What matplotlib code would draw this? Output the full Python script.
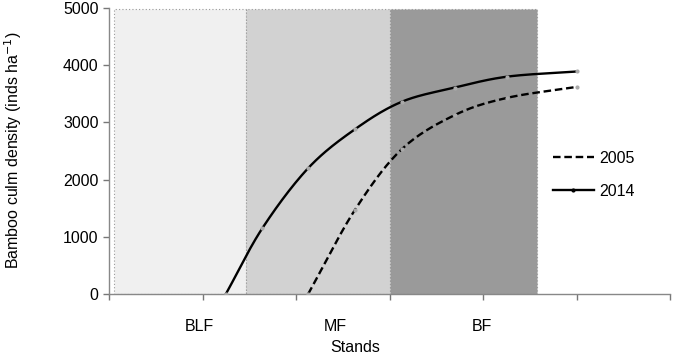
import numpy as np
import matplotlib.pyplot as plt

plt.rcParams['font.family'] = ['Liberation Sans', 'DejaVu Sans']

# sampling positions along the stand gradient (axis units)
x_pos = [1.25, 1.64, 2.13, 2.63, 3.13, 3.70, 4.26, 5.0]
density_2014 = [0, 1150, 2200, 2880, 3360, 3610, 3800, 3890]
x_pos_2005 = [2.13, 2.63, 3.13, 3.70, 4.26, 5.0]
density_2005 = [0, 1470, 2530, 3130, 3430, 3620]

stands = ['BLF', 'MF', 'BF']
stand_edges = [0.05, 1.47, 3.0, 4.58]
stand_colors = ['#f0f0f0', '#d2d2d2', '#9a9a9a']
stand_label_x = [0.97, 2.42, 3.99]

# px per axis unit, used so smoothing behaves as in screen space
SX, SY = 93.5, 0.0572


def smooth(x, y, n=30):
    # Catmull-Rom style smoothing, like the spreadsheet "smoothed line"
    x = np.asarray(x, float) * SX
    y = np.asarray(y, float) * SY
    px = np.concatenate([[2 * x[0] - x[1]], x, [2 * x[-1] - x[-2]]])
    py = np.concatenate([[2 * y[0] - y[1]], y, [2 * y[-1] - y[-2]]])
    xs, ys = [], []
    t = np.linspace(0, 1, n)
    for i in range(1, len(px) - 2):
        p0, p1, p2, p3 = [np.array([px[j], py[j]]) for j in range(i - 1, i + 3)]
        m1 = (p2 - p0) / 2
        m2 = (p3 - p1) / 2
        h00 = 2 * t**3 - 3 * t**2 + 1
        h10 = t**3 - 2 * t**2 + t
        h01 = -2 * t**3 + 3 * t**2
        h11 = t**3 - t**2
        pts = np.outer(h00, p1) + np.outer(h10, m1) + np.outer(h01, p2) + np.outer(h11, m2)
        xs.extend(pts[:, 0])
        ys.extend(pts[:, 1])
    return np.array(xs) / SX, np.array(ys) / SY


fig = plt.figure(figsize=(6.75, 3.56), dpi=100)
ax = fig.add_axes([0.1615, 0.1742, 0.8311, 0.8033])

for i in range(3):
    ax.axvspan(stand_edges[i], stand_edges[i + 1], ymin=0, ymax=0.995,
               facecolor=stand_colors[i], edgecolor='#999999',
               linestyle=(0, (1, 2)), linewidth=0.8, zorder=0)

sx, sy = smooth(x_pos_2005, density_2005)
ax.plot(sx, sy, color='black', linestyle=(0, (3.2, 1.6)), linewidth=1.7, zorder=3)
ax.plot(x_pos_2005, density_2005, 'o', color='#aaaaaa', markersize=2, zorder=4)
ax.plot([], [], color='black', linestyle=(0, (3.2, 1.6)), linewidth=1.7, label='2005')

sx, sy = smooth(x_pos, density_2014)
ax.plot(sx, sy, color='black', linewidth=1.7, zorder=3)
ax.plot(x_pos, density_2014, 'o', color='#aaaaaa', markersize=2, zorder=4)
ax.plot([], [], color='black', linewidth=1.7, marker='o', markersize=2,
        label='2014')

ax.set_xlim(0, 6)
ax.set_ylim(0, 5000)
ax.set_xticks(np.arange(0, 7))
ax.set_xticklabels([])
ax.set_yticks(np.arange(0, 5001, 1000))
ax.tick_params(axis='both', colors='#777777', labelcolor='black',
               labelsize=11.5, length=4, width=1)
ax.tick_params(axis='x', direction='out')
for s in ['top', 'right']:
    ax.spines[s].set_visible(False)
for s in ['left', 'bottom']:
    ax.spines[s].set_color('#888888')
    ax.spines[s].set_linewidth(1)

for lab, xc in zip(stands, stand_label_x):
    ax.text(xc, -560, lab, ha='center', va='center', fontsize=11.5)
ax.text(2.63, -940, 'Stands', ha='center', va='center', fontsize=11.5)
fig.text(13 / 675, 1 - 150 / 356, 'Bamboo culm density (inds ha$^{-1}$)',
         rotation=90, ha='center', va='center', fontsize=11.5)

ax.legend(loc='upper left', bbox_to_anchor=(0.765, 0.55), frameon=False,
          fontsize=11.5, handlelength=2.6, handletextpad=0.3, labelspacing=1.1)

fig.savefig('out.png', dpi=100)
